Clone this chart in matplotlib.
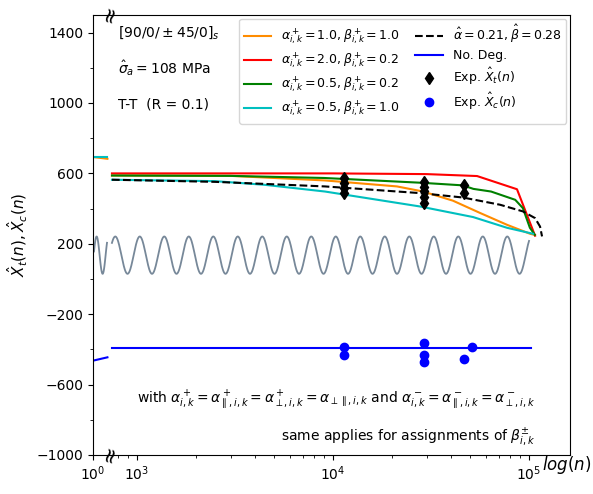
import numpy as np
import matplotlib
matplotlib.use("Agg")
import matplotlib.pyplot as plt
import matplotlib.transforms as mtransforms

# ---------------- data ----------------
# left (broken) segment, n from 1
n_left = [1, 1.8]
cyan_left = [693, 693]
orange_left = [693, 683]
blue_left = [-464, -445]

# model curves (main segment)
n_orange = [745, 3000, 9100, 21200, 28800, 40900, 56300, 77200, 101200, 107300]
v_orange = [588, 586, 560, 526, 497, 445, 375, 308, 257, 250]

n_red = [745, 10000, 30000, 54300, 86800, 107300]
v_red = [600, 600, 596, 585, 510, 246]

n_green = [745, 3000, 9000, 28000, 46000, 52000, 64000, 85000, 93000, 101000, 107000]
v_green = [588, 586, 574, 547, 532, 512, 497, 450, 403, 291, 251]

n_cyan = [745, 2500, 4500, 9100, 27800, 51800, 77200, 104800]
v_cyan = [564, 556, 535, 497, 412, 352, 291, 257]

n_fit = [745, 2500, 9100, 27800, 46000, 71100, 93100, 107300, 113800, 116500]
v_fit = [564, 552, 526, 488, 463, 422, 384, 346, 298, 242]

n_nodeg = [745, 102000]
v_nodeg = [-390, -390]

# experiments
n_xt = [11400] * 4 + [29000] * 5 + [46600] * 2
v_xt = [575, 547, 519, 490, 550, 522, 500, 468, 433, 535, 488]

n_xc = [11400, 11400, 29000, 29000, 29000, 46600, 51000]
v_xc = [-384, -431, -365, -431, -469, -456, -388]

yticks_major = [-1000, -600, -200, 200, 600, 1000, 1400]
yticks_minor = [-800, -400, 0, 400, 800, 1200]

# ---------------- figure ----------------
W, H = 593, 494
fig = plt.figure(figsize=(W / 100, H / 100), dpi=100)

def fx(px):
    return px / W

def fy(py):
    return 1 - py / H

ax_l = fig.add_axes([fx(93), fy(455), fx(110) - fx(93), fy(15) - fy(455)])
ax = fig.add_axes([fx(110), fy(455), fx(570) - fx(110), fy(15) - fy(455)])

lw = 1.5
c_orange = "darkorange"
c_red = "red"
c_green = "green"
c_cyan = "c"
c_blue = "blue"
c_sine = "lightslategray"

# left segment
ax_l.set_xscale("log")
ax_l.set_xlim(1, 2)
ax_l.plot(n_left, orange_left, color=c_orange, lw=lw)
ax_l.plot(n_left, cyan_left, color=c_cyan, lw=lw)
ax_l.plot(n_left, blue_left, color=c_blue, lw=lw)
# decorative wavy break line (left part)
tb = mtransforms.blended_transform_factory(ax_l.transAxes, ax_l.transData)
xs = np.linspace(1 / 17, 14 / 17, 100)
ax_l.plot(xs, 135.5 + 106 * np.sin(2 * np.pi * (xs * 17 - 1) / 12 + 0.2),
          color=c_sine, lw=1.3, transform=tb)
ax_l.set_ylim(-1000, 1500)
ax_l.set_yticks(yticks_major)
ax_l.set_yticks(yticks_minor, minor=True)
ax_l.set_xticks([1])
ax_l.set_xticklabels([r"$10^0$"])
ax_l.xaxis.set_minor_locator(matplotlib.ticker.NullLocator())
ax_l.spines["right"].set_visible(False)
ax_l.tick_params(labelsize=10)

# main segment
ax.set_xscale("log")
ax.set_xlim(728, 161800)
ax.set_ylim(-1000, 1500)
ax.plot(n_orange, v_orange, color=c_orange, lw=lw, label=r"$\alpha^+_{i,k}=1.0, \beta^+_{i,k}=1.0$")
ax.plot(n_red, v_red, color=c_red, lw=lw, label=r"$\alpha^+_{i,k}=2.0, \beta^+_{i,k}=0.2$")
ax.plot(n_green, v_green, color=c_green, lw=lw, label=r"$\alpha^+_{i,k}=0.5, \beta^+_{i,k}=0.2$")
ax.plot(n_cyan, v_cyan, color=c_cyan, lw=lw, label=r"$\alpha^+_{i,k}=0.5, \beta^+_{i,k}=1.0$")
ax.plot(n_fit, v_fit, color="black", lw=lw, ls="--", label=r"$\hat{\alpha}=0.21, \hat{\beta}=0.28$")
ax.plot(n_nodeg, v_nodeg, color=c_blue, lw=lw, label="No. Deg.")
ax.plot(n_xt, v_xt, ls="none", marker="d", color="black", ms=6, label=r"Exp. $\hat{X}_t(n)$")
ax.plot(n_xc, v_xc, ls="none", marker="o", color=c_blue, ms=6, label=r"Exp. $\hat{X}_c(n)$")

# decorative wavy break line (main part)
L = np.linspace(2.872, 5.0, 1200)
ax.plot(10 ** L, 135.5 + 106 * np.cos(2 * np.pi * (L - 2.889) / 0.125), color=c_sine, lw=1.3)

ax.spines["left"].set_visible(False)
ax.tick_params(axis="y", which="both", left=False, labelleft=False)
ax.tick_params(labelsize=10)
ax.set_yticks(yticks_major)
ax.set_yticks(yticks_minor, minor=True)

leg = ax.legend(ncol=2, fontsize=9, loc="upper right",
                bbox_to_anchor=(fx(566), fy(19)), bbox_transform=fig.transFigure,
                borderaxespad=0, handlelength=2.2, columnspacing=1.2, labelspacing=0.3,
                borderpad=0.35)

# break markers
for py in (14, 454):
    fig.text(fx(110), fy(py), "≈", rotation=75, ha="center", va="center", fontsize=15,
             color="black")

# annotations
fig.text(fx(118), fy(33), r"$[90/0/\pm45/0]_s$", fontsize=10, va="center")
fig.text(fx(118), fy(68), r"$\hat{\sigma}_a = 108$ MPa", fontsize=10, va="center")
fig.text(fx(118), fy(104), "T-T  (R = 0.1)", fontsize=10, va="center")

fig.text(fx(535), fy(400),
         r"with $\alpha^+_{i,k}=\alpha^+_{\parallel,i,k}=\alpha^+_{\perp,i,k}=\alpha_{\perp\parallel,i,k}$ and "
         r"$\alpha^-_{i,k}=\alpha^-_{\parallel,i,k}=\alpha^-_{\perp,i,k}$",
         fontsize=10, ha="right", va="center")
fig.text(fx(535), fy(437), r"same applies for assignments of $\beta^{\pm}_{i,k}$",
         fontsize=10, ha="right", va="center")

fig.text(fx(591), fy(465), r"$log(n)$", fontsize=12, ha="right", va="center")
fig.text(fx(18), fy(235), r"$\hat{X}_t(n), \hat{X}_c(n)$", fontsize=11, rotation=90,
         ha="center", va="center")

fig.savefig("out.png", dpi=100)
